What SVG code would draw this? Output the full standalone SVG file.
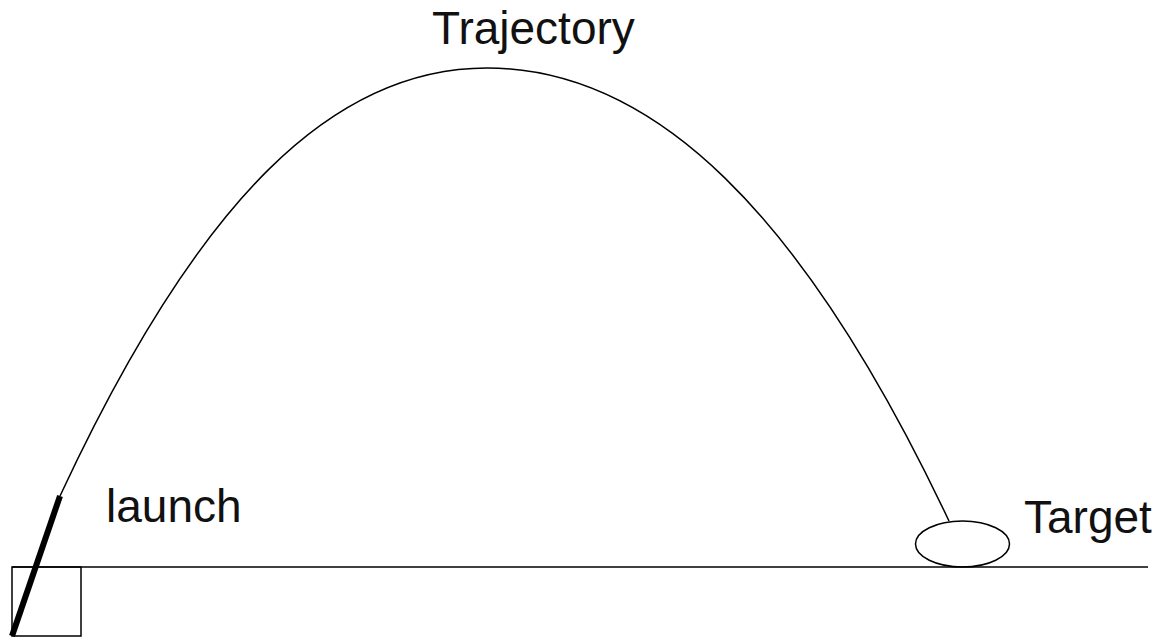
<svg xmlns="http://www.w3.org/2000/svg" width="1170" height="641" viewBox="0 0 1170 641">
<style>
.ln{fill:none;stroke:#000;stroke-width:1.5}
.lbl{font-family:"Liberation Sans",Arial,sans-serif;font-size:46px;fill:#111}
</style>
<rect width="1170" height="641" fill="#fff"/>
<g id="connectors">
<path id="trajectory" class="ln" d="M60,496 C200,195 335,68 487,68 C652,68 802,210 949,521"/>
</g>
<g id="ground"><line class="ln" x1="12" y1="567" x2="1148" y2="567"/></g>
<g id="launcher">
<rect class="ln" x="12" y="567" width="69" height="69"/>
<line x1="12" y1="636" x2="60" y2="496" stroke="#000" stroke-width="6"/>
<text class="lbl" x="106" y="522">launch</text>
</g>
<g id="target">
<ellipse class="ln" cx="962.5" cy="544" rx="47" ry="23"/>
<text class="lbl" x="1024" y="533">Target</text>
</g>
<g id="title"><text class="lbl" x="432" y="44">Trajectory</text></g>
</svg>
